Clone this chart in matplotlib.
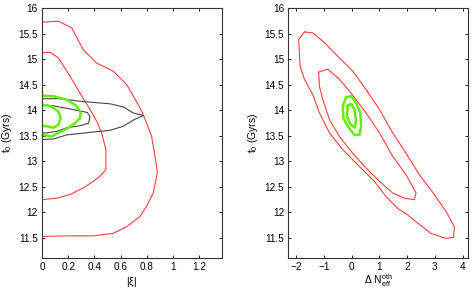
import numpy as np
import matplotlib
matplotlib.use("Agg")
import matplotlib.pyplot as plt

plt.rcParams['font.family'] = ['Liberation Sans', 'DejaVu Sans']
plt.rcParams['mathtext.fontset'] = 'custom'
plt.rcParams['mathtext.rm'] = 'Liberation Sans'
plt.rcParams['mathtext.it'] = 'Liberation Sans'

RED = '#ff4040'
GREEN = '#66ee00'
GREY = '#444444'

# ---- left panel: |xi| vs t0 ----
xi_red_outer = [0, 0.125, 0.226, 0.315, 0.417, 0.544, 0.646, 0.735, 0.773, 0.837, 0.875,
                0.88, 0.849, 0.798, 0.748, 0.646, 0.544, 0.392, 0.188, 0]
t0_red_outer = [15.73, 15.75, 15.62, 15.19, 14.93, 14.77, 14.51, 14.11, 13.92, 13.49, 12.90,
                12.77, 12.38, 12.12, 11.92, 11.72, 11.59, 11.54, 11.54, 11.53]
xi_red_inner = [0, 0.061, 0.125, 0.214, 0.29, 0.366, 0.417, 0.455, 0.488, 0.488, 0.442,
                0.392, 0.315, 0.214, 0.112, 0]
t0_red_inner = [15.13, 15.14, 15.03, 14.67, 14.34, 14.02, 13.79, 13.56, 13.23, 12.84, 12.71,
                12.61, 12.48, 12.35, 12.28, 12.25]
xi_blk_outer = [0, 0.137, 0.29, 0.519, 0.62, 0.697, 0.773, 0.697, 0.62, 0.519, 0.366,
                0.188, 0.086, 0]
t0_blk_outer = [14.23, 14.23, 14.18, 14.13, 14.07, 13.95, 13.90, 13.81, 13.69, 13.61, 13.57,
                13.52, 13.44, 13.43]
xi_blk_inner = [0, 0.086, 0.214, 0.346, 0.366, 0.356, 0.29, 0.188, 0.112, 0.036, 0]
t0_blk_inner = [14.11, 14.09, 14.03, 13.96, 13.88, 13.75, 13.70, 13.66, 13.59, 13.56, 13.56]
xi_grn_outer = [0, 0.086, 0.188, 0.264, 0.295, 0.29, 0.252, 0.188, 0.125, 0.074, 0.036, 0]
t0_grn_outer = [14.29, 14.28, 14.21, 14.09, 13.95, 13.85, 13.75, 13.64, 13.56, 13.49, 13.51, 13.52]
xi_grn_inner = [0, 0.061, 0.125, 0.142, 0.125, 0.086, 0.036, 0]
t0_grn_inner = [14.11, 14.09, 13.98, 13.85, 13.72, 13.66, 13.69, 13.70]

# ---- right panel: Delta N_eff vs t0 ----
dn_red_outer = [-1.70, -1.40, -0.98, -0.44, 0.04, 0.52, 1.0, 1.48, 1.96, 2.44, 2.98, 3.40,
                3.70, 3.67, 3.40, 2.86, 2.38, 2.02, 1.66, 1.24, 0.82, 0.28, -0.32, -0.80,
                -1.16, -1.40, -1.70, -1.86, -1.91, -1.70]
t0r_red_outer = [15.54, 15.52, 15.33, 15.03, 14.77, 14.41, 14.02, 13.56, 13.16, 12.74, 12.35,
                 12.02, 11.72, 11.51, 11.49, 11.59, 11.79, 11.95, 12.08, 12.31, 12.61, 12.90,
                 13.23, 13.56, 13.95, 14.31, 14.61, 14.87, 15.39, 15.54]
dn_red_inner = [-1.19, -0.86, -0.44, -0.02, 0.52, 1.0, 1.48, 1.96, 2.32, 2.26, 1.90, 1.48,
                1.0, 0.52, 0.04, -0.44, -0.80, -1.04, -1.16, -1.19]
t0r_red_inner = [14.75, 14.81, 14.61, 14.34, 13.95, 13.56, 13.10, 12.74, 12.38, 12.25, 12.28,
                 12.38, 12.61, 12.87, 13.16, 13.49, 13.82, 14.21, 14.47, 14.75]
dn_grn_outer = [-0.20, -0.02, 0.16, 0.31, 0.34, 0.28, 0.10, -0.14, -0.30, -0.32, -0.20]
t0r_grn_outer = [14.26, 14.28, 14.15, 13.95, 13.69, 13.52, 13.52, 13.69, 13.85, 14.09, 14.26]
dn_grn_inner = [-0.14, -0.02, 0.10, 0.16, 0.10, -0.06, -0.17, -0.14]
t0r_grn_inner = [14.09, 14.13, 14.02, 13.79, 13.66, 13.74, 13.88, 14.09]

fig = plt.figure(figsize=(4.72, 2.91), dpi=100)
ax1 = fig.add_axes([0.089, 0.114, 0.381, 0.857])
ax2 = fig.add_axes([0.611, 0.114, 0.381, 0.857])

ax1.plot(xi_red_outer, t0_red_outer, color=RED, lw=0.8)
ax1.plot(xi_red_inner, t0_red_inner, color=RED, lw=0.8)
ax1.plot(xi_blk_outer, t0_blk_outer, color=GREY, lw=0.8)
ax1.plot(xi_blk_inner, t0_blk_inner, color=GREY, lw=0.8)
ax1.plot(xi_grn_outer, t0_grn_outer, color=GREEN, lw=1.8)
ax1.plot(xi_grn_inner, t0_grn_inner, color=GREEN, lw=1.8)
ax1.set_xlim(0, 1.373)
ax1.set_xticks([0, 0.2, 0.4, 0.6, 0.8, 1, 1.2])
ax1.set_xticklabels(['0', '0.2', '0.4', '0.6', '0.8', '1', '1.2'])
ax1.set_xlabel(r'|$\xi$|', labelpad=3)

ax2.plot(dn_red_outer, t0r_red_outer, color=RED, lw=0.8)
ax2.plot(dn_red_inner, t0r_red_inner, color=RED, lw=0.8)
ax2.plot(dn_grn_outer, t0r_grn_outer, color=GREEN, lw=1.8)
ax2.plot(dn_grn_inner, t0r_grn_inner, color=GREEN, lw=1.8)
ax2.set_xlim(-2.28, 4.2)
ax2.set_xticks([-2, -1, 0, 1, 2, 3, 4])
ax2.set_xticklabels(['\u22122', '\u22121', '0', '1', '2', '3', '4'])
ax2.set_xlabel(r'$\Delta\ \mathregular{N_{eff}^{oth}}$', labelpad=0)

for ax in (ax1, ax2):
    ax.set_ylim(11.11, 16.0)
    ax.set_yticks([11.5, 12, 12.5, 13, 13.5, 14, 14.5, 15, 15.5, 16])
    ax.set_yticklabels(['11.5', '12', '12.5', '13', '13.5', '14', '14.5', '15', '15.5', '16'])
    ax.set_ylabel(r'$\mathregular{t_0}$ (Gyrs)', labelpad=3)
    ax.tick_params(direction='in', length=2, width=0.6, labelsize=7.2,
                   top=True, right=True, pad=3)
    for s in ax.spines.values():
        s.set_linewidth(0.8)
        s.set_color('#333333')
    ax.xaxis.label.set_size(7.5)
    ax.yaxis.label.set_size(7.5)

fig.savefig('out.png', dpi=100)
